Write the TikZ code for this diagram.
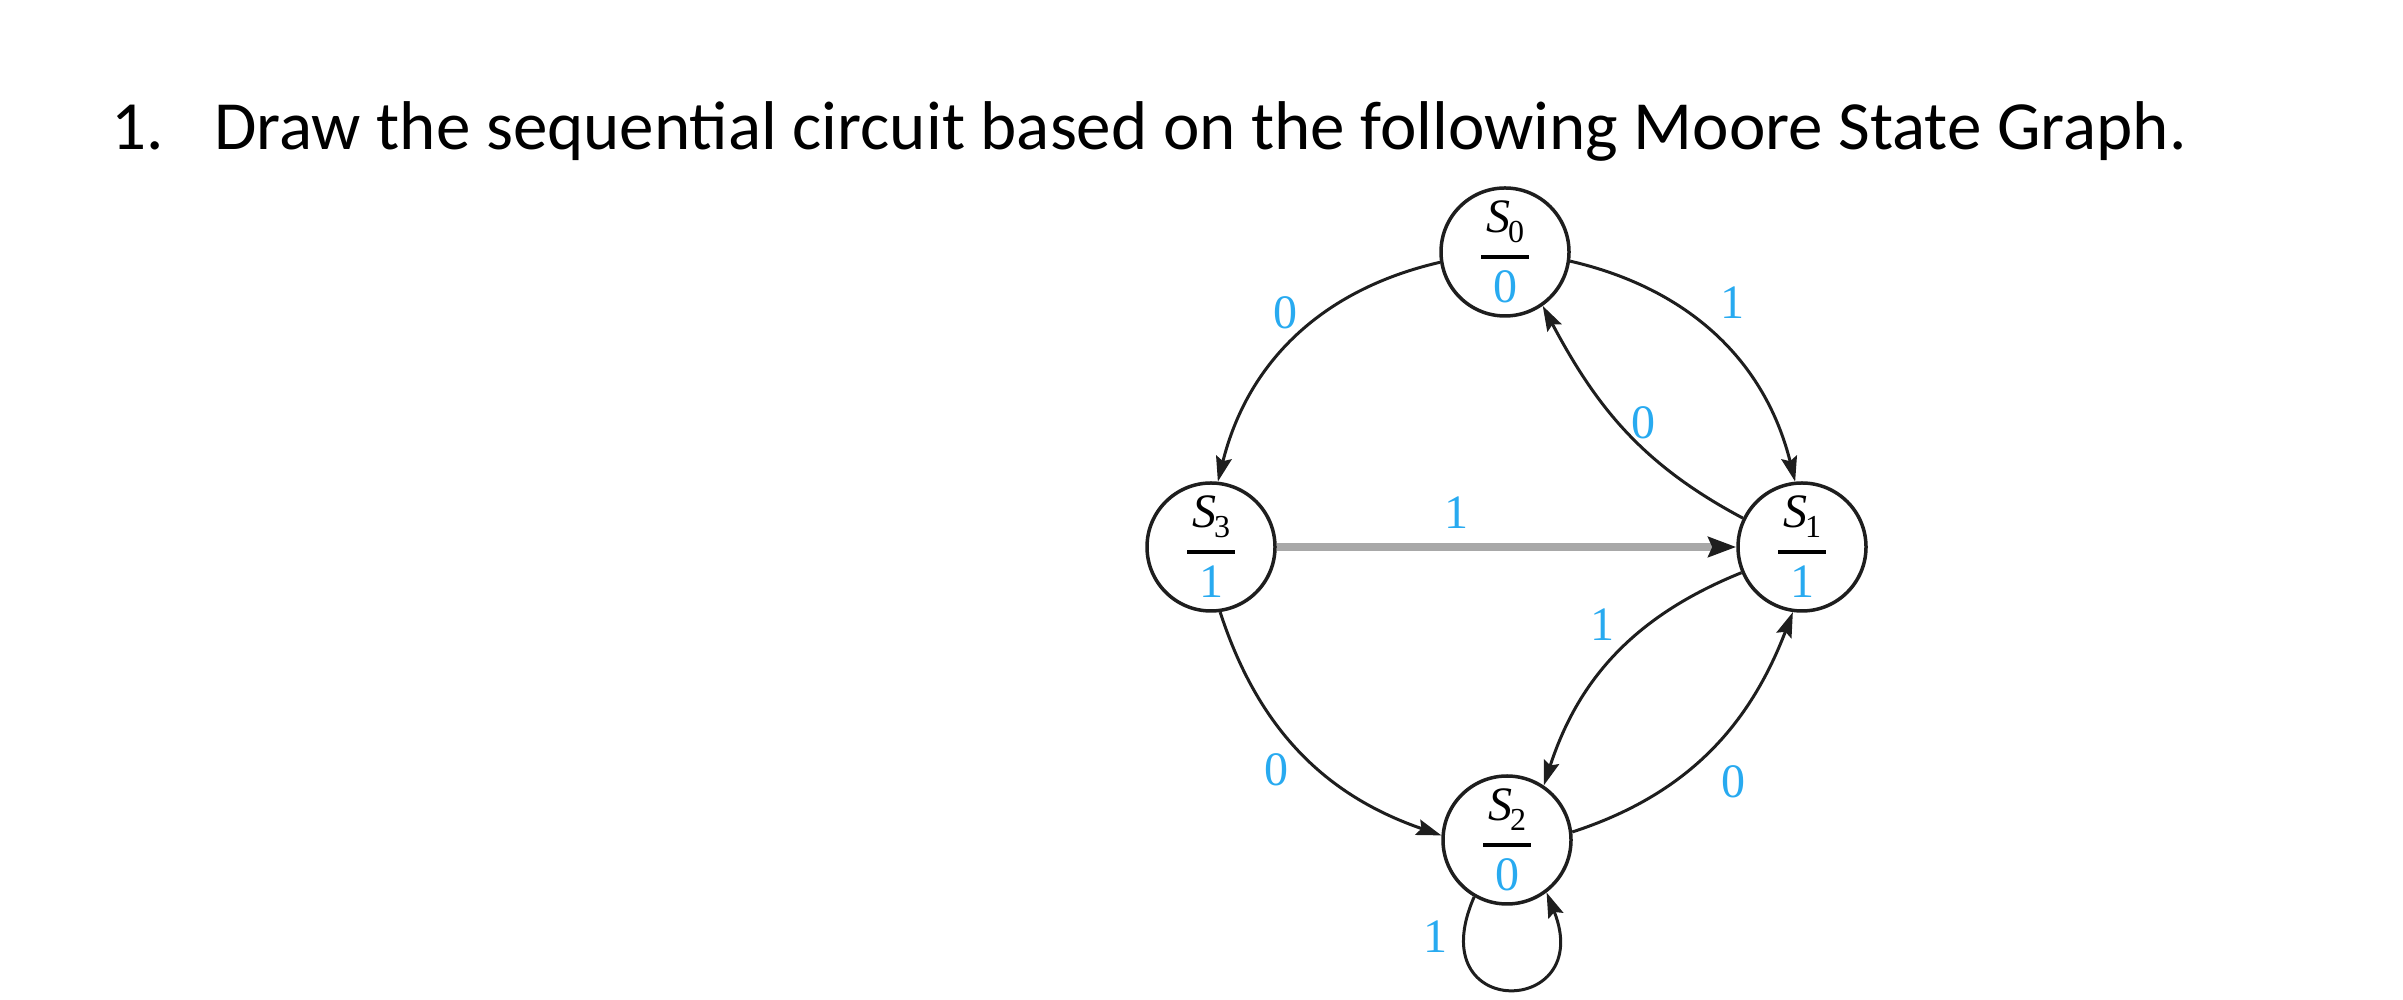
\documentclass[tikz,border=0pt]{standalone}
\usepackage{fontspec}
\setmainfont{Carlito}
\newfontfamily\tms{Liberation Serif}
\usetikzlibrary{arrows.meta}
\definecolor{lblcyan}{RGB}{40,170,240}
\definecolor{edgecol}{RGB}{30,30,30}
\definecolor{barcol}{RGB}{168,168,168}
\newcommand{\Sname}[1]{{\tms\itshape S}\kern-2pt\raisebox{-10pt}{\tms\fontsize{32}{32}\selectfont #1}}
\begin{document}
\begin{tikzpicture}[x=1pt,y=1pt,
  statenode/.style={circle, draw=edgecol, line width=3.5pt, minimum size=128pt, inner sep=0pt},
  stname/.style={inner sep=0pt, font=\tms\fontsize{48}{48}\selectfont, text=black},
  outlbl/.style={inner sep=0pt, font=\tms\fontsize{48}{48}\selectfont, text=lblcyan},
  elbl/.style={inner sep=0pt, font=\tms\fontsize{48}{48}\selectfont, text=lblcyan},
  fracbar/.style={line width=4pt, black},
  edge/.style={draw=edgecol, line width=3pt, -{Stealth[length=25pt,width=16pt,inset=4pt]}},
  grayedge/.style={draw=barcol, line width=7.5pt, -{Stealth[length=28pt,width=20pt,inset=4pt,color=edgecol]}},
  titletext/.style={inner sep=0pt, anchor=base west, font=\fontsize{69}{80}\selectfont}
]
\useasboundingbox (0,0) rectangle (2403,1000);

% title
\node[titletext] (num) at (111,850) {1.};
\node[titletext] (title) at (214,850) {Draw the sequential circuit based on the following Moore State Graph.};

% states
\node[statenode] (S0) at (1505,748) {};
\node[statenode] (S1) at (1802,453) {};
\node[statenode] (S3) at (1211,453) {};
\node[statenode] (S2) at (1507,160) {};

\foreach \s/\i/\o in {S0/0/0, S1/1/1, S2/2/0, S3/3/1}{
  \node[stname] (\s n) at ([yshift=30pt]\s.center) {\Sname{\i}};
  \draw[fracbar] ([xshift=-24pt,yshift=-5pt]\s.center) -- ([xshift=24pt,yshift=-5pt]\s.center);
  \node[outlbl] (\s o) at ([yshift=-35pt]\s.center) {\o};
}

% edges
\draw[edge] (S0.189) to[out=193,in=76] (S3.84);
\draw[edge] (S0.-8) to[out=-13,in=104] (S1.96);
\draw[edge] (S1.154) to[out=152,in=-62] (S0.-55);
\draw[grayedge] (S3.east) -- (S1.west);
\draw[edge] (S1.203) to[out=202,in=72] (S2.56);
\draw[edge] (S2.7) to[out=18,in=-111] (S1.-98);
\draw[edge] (S3.-82) to[out=-72,in=161] (S2.176);
\draw[edge] (S2.-120) .. controls +(-55,-125) and +(50,-125) .. (S2.-53);

% edge labels
\node[elbl] (l30) at (1285,687) {0};
\node[elbl] (l01) at (1732,697) {1};
\node[elbl] (l10) at (1643,577) {0};
\node[elbl] (l31) at (1456,487) {1};
\node[elbl] (l12) at (1602,375) {1};
\node[elbl] (l32) at (1276,230) {0};
\node[elbl] (l21) at (1733,218) {0};
\node[elbl] (l22) at (1435,63) {1};
\end{tikzpicture}
\end{document}
